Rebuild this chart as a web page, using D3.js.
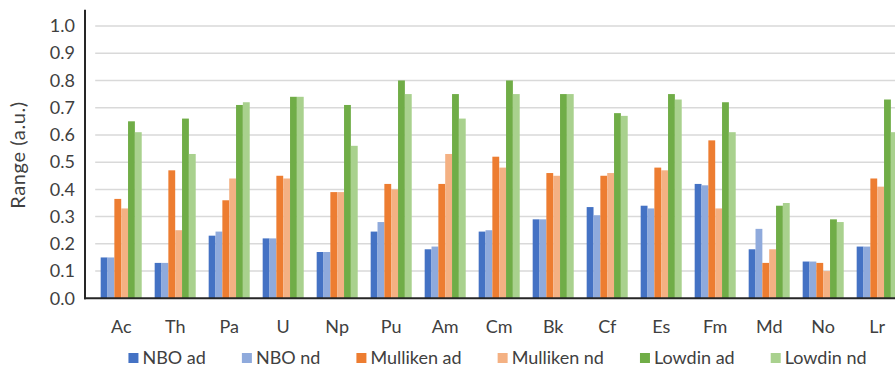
<!DOCTYPE html>
<html>
<head>
<meta charset="utf-8">
<script src="https://cdn.jsdelivr.net/npm/d3@7"></script>
<style>
  html, body { margin: 0; padding: 0; background: #fff; overflow: hidden; }
  svg { display: block; font-family: Lato, "Open Sans", sans-serif; }
</style>
</head>
<body>
<svg id="chart" width="895" height="368"></svg>
<script>
// Actinide series
const categories = ["Ac", "Th", "Pa", "U", "Np", "Pu", "Am", "Cm", "Bk", "Cf", "Es", "Fm", "Md", "No", "Lr"];

// Range values (a.u.) per population scheme
const nboAd      = [0.15, 0.13, 0.23, 0.22, 0.17, 0.245, 0.18, 0.245, 0.29, 0.335, 0.34, 0.42, 0.18, 0.135, 0.19];
const nboNd      = [0.15, 0.13, 0.245, 0.22, 0.17, 0.28, 0.19, 0.25, 0.29, 0.305, 0.33, 0.415, 0.255, 0.135, 0.19];
const mullikenAd = [0.365, 0.47, 0.36, 0.45, 0.39, 0.42, 0.42, 0.52, 0.46, 0.45, 0.48, 0.58, 0.13, 0.13, 0.44];
const mullikenNd = [0.33, 0.25, 0.44, 0.44, 0.39, 0.40, 0.53, 0.48, 0.45, 0.46, 0.47, 0.33, 0.18, 0.10, 0.41];
const lowdinAd   = [0.65, 0.66, 0.71, 0.74, 0.71, 0.80, 0.75, 0.80, 0.75, 0.68, 0.75, 0.72, 0.34, 0.29, 0.73];
const lowdinNd   = [0.61, 0.53, 0.72, 0.74, 0.56, 0.75, 0.66, 0.75, 0.75, 0.67, 0.73, 0.61, 0.35, 0.28, 0.61];

const seriesNames  = ["NBO ad", "NBO nd", "Mulliken ad", "Mulliken nd", "Lowdin ad", "Lowdin nd"];
const seriesColors = ["#4472C4", "#8FAADC", "#ED7D31", "#F4B183", "#70AD47", "#A9D18E"];
const yTicks = [0, 0.1, 0.2, 0.3, 0.4, 0.5, 0.6, 0.7, 0.8, 0.9, 1.0];

const seriesValues = [nboAd, nboNd, mullikenAd, mullikenNd, lowdinAd, lowdinNd];
const rows = categories.map((c, i) => ({
  cat: c,
  values: seriesNames.map((s, k) => ({ key: s, value: seriesValues[k][i] }))
}));

const svg = d3.select("#chart");
const axisX = 85;          // vertical axis line position
const plotLeft = 94.2;     // start of category bands
const plotRight = 904.2;   // bands run past the visible edge

const y = d3.scaleLinear().domain([0, 1]).range([298.3, 26]);
const x0 = d3.scaleBand().domain(categories).range([plotLeft, plotRight])
  .paddingInner(0.24).paddingOuter(0.12);
const x1 = d3.scaleBand().domain(seriesNames).range([0, x0.bandwidth()]);
const color = d3.scaleOrdinal().domain(seriesNames).range(seriesColors);

// Horizontal gridlines
svg.append("g").selectAll("line")
  .data(yTicks.filter(t => t > 0))
  .join("line")
  .attr("x1", plotLeft + 1).attr("x2", 895)
  .attr("y1", d => y(d)).attr("y2", d => y(d))
  .attr("stroke", "#d9d9d9").attr("stroke-width", 1.5);

// Bars
svg.append("g").selectAll("g")
  .data(rows)
  .join("g")
  .attr("transform", d => `translate(${x0(d.cat)},0)`)
  .selectAll("rect")
  .data(d => d.values)
  .join("rect")
  .attr("x", d => x1(d.key))
  .attr("width", x1.bandwidth())
  .attr("y", d => y(d.value))
  .attr("height", d => y(0) - y(d.value))
  .attr("fill", d => color(d.key));

// Y axis: line plus labels
const yAxis = d3.axisLeft(y).tickValues(yTicks).tickFormat(d3.format(".1f")).tickSize(0).tickPadding(10);
const gy = svg.append("g").attr("transform", `translate(${axisX},0)`).call(yAxis);
gy.select(".domain").remove();
gy.selectAll("text")
  .attr("font-family", "Lato, 'Open Sans', sans-serif")
  .attr("font-size", 18).attr("fill", "#404040");

svg.append("line")
  .attr("x1", axisX).attr("x2", axisX)
  .attr("y1", y(0) + 1).attr("y2", y(1.06))
  .attr("stroke", "#262626").attr("stroke-width", 2);

// X axis: baseline plus category labels
svg.append("line")
  .attr("x1", axisX - 1).attr("x2", 895)
  .attr("y1", y(0)).attr("y2", y(0))
  .attr("stroke", "#262626").attr("stroke-width", 2);

const xAxis = d3.axisBottom(x0).tickSize(0).tickPadding(22);
const gx = svg.append("g").attr("transform", `translate(0,${y(0)})`).call(xAxis);
gx.select(".domain").remove();
gx.selectAll("text")
  .attr("font-family", "Lato, 'Open Sans', sans-serif")
  .attr("font-size", 18).attr("fill", "#404040");

// Y axis title
svg.append("text")
  .attr("transform", `translate(25,155) rotate(-90)`)
  .attr("text-anchor", "middle")
  .attr("font-size", 20).attr("letter-spacing", 0.6).attr("fill", "#404040")
  .text("Range (a.u.)");

// Legend, laid out from measured label widths
const legend = svg.append("g");
const items = legend.selectAll("g").data(seriesNames).join("g");
items.append("rect").attr("width", 10).attr("height", 10).attr("y", -5)
  .attr("fill", d => color(d));
items.append("text").attr("x", 14).attr("dy", "0.35em")
  .attr("font-size", 18).attr("fill", "#404040")
  .text(d => d);
const gap = 36;
let cursor = 0;
const offsets = [];
items.each(function () {
  offsets.push(cursor);
  cursor += this.getBBox().width + gap;
});
const total = cursor - gap;
const legendLeft = 497.5 - total / 2;
items.attr("transform", (d, i) => `translate(${legendLeft + offsets[i]},358)`);
</script>
</body>
</html>
